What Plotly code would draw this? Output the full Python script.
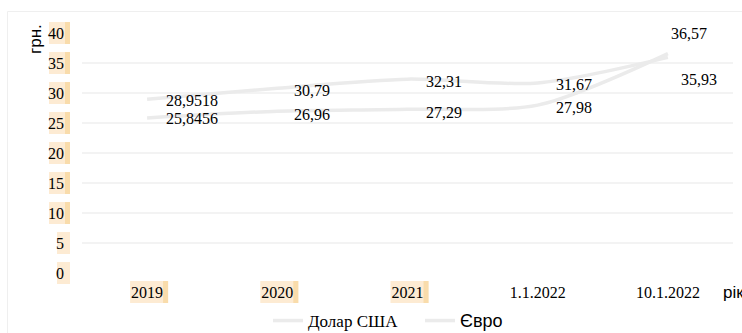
import plotly.graph_objects as go

# Exchange rates of the hryvnia (UAH per unit of currency)
categories = ["2019", "2020", "2021", "1.1.2022", "10.1.2022"]
usd = [25.8456, 26.96, 27.29, 27.98, 36.57]
eur = [28.9518, 30.79, 32.31, 31.67, 35.93]
y_ticks = [0, 5, 10, 15, 20, 25, 30, 35, 40]
series_names = ["Долар США", "Євро"]
highlighted_x = ["2019", "2020", "2021"]

# ---- layout geometry -------------------------------------------------------
W, H = 742, 333
M = dict(l=82, r=9, t=33, b=60)
PW = W - M["l"] - M["r"]
PH = H - M["t"] - M["b"]
Y_RANGE = [0, 40]

SERIF = "Liberation Serif"
SANS = "Liberation Sans"
LINE_COLOR = "#ebebeb"
LABEL_BG = "#fdebd3"
LABEL_EDGE = "#f9dcab"


def px(xpix):
    return (xpix - M["l"]) / PW


def py(ypix):
    return (H - M["b"] - ypix) / PH


def cat_pix(i):
    return M["l"] + (i + 0.5) * PW / len(categories)


def val_pix(v):
    return H - M["b"] - (v - Y_RANGE[0]) / (Y_RANGE[1] - Y_RANGE[0]) * PH


def fmt(v):
    return f"{v}".replace(".", ",")


fig = go.Figure()
fig.add_trace(go.Scatter(
    x=categories, y=usd, mode="lines", name=series_names[0],
    line=dict(color=LINE_COLOR, width=3.5, shape="spline", smoothing=0.8),
))
fig.add_trace(go.Scatter(
    x=categories, y=eur, mode="lines",
    name=f'<span style="font-family:{SANS};font-size:18px">{series_names[1]}</span>',
    line=dict(color=LINE_COLOR, width=3.5, shape="spline", smoothing=0.8),
))

# value labels beside each point (x/y pixel offsets)
usd_offsets = [(17, -1), (15, -3), (16, -3), (16, -2), (1, 20)]
eur_offsets = [(17, -1), (15, -2), (16, -2), (16, -2), (11, -22)]
annotations = []
for values, offsets in ((usd, usd_offsets), (eur, eur_offsets)):
    for i, (v, (dx, dy)) in enumerate(zip(values, offsets)):
        annotations.append(dict(
            x=i, y=v, xref="x", yref="y", text=fmt(v), showarrow=False,
            xanchor="left", yanchor="middle", xshift=dx, yshift=dy,
            font=dict(family=SERIF, size=16, color="#000"),
        ))

# axis titles
annotations.append(dict(
    x=px(35), y=py(39), xref="paper", yref="paper", text="грн.",
    showarrow=False, textangle=-90, xanchor="center", yanchor="middle",
    font=dict(family=SANS, size=17, color="#000"),
))
annotations.append(dict(
    x=px(721), y=py(292), xref="paper", yref="paper", text="рік",
    showarrow=False, xanchor="left", yanchor="middle",
    font=dict(family=SANS, size=17, color="#000"),
))

shapes = []
# light frame around the chart
shapes.append(dict(
    type="rect", xref="paper", yref="paper", layer="below",
    x0=px(7.5), x1=px(780), y0=py(11.5), y1=py(380),
    line=dict(color="#efefef", width=1), fillcolor="rgba(0,0,0,0)",
))


def rect(x0, x1, y0, y1, color):
    return dict(type="rect", xref="paper", yref="paper", layer="below",
                x0=px(x0), x1=px(x1), y0=py(y0), y1=py(y1),
                line=dict(width=0), fillcolor=color)


# highlighted y tick labels
for t in y_ticks:
    yc = val_pix(t)
    if t >= 10:
        shapes.append(rect(49, 70, yc - 11, yc + 11, LABEL_BG))
        shapes.append(rect(65, 70, yc - 11, yc + 11, LABEL_EDGE))
    else:
        shapes.append(rect(57, 70, yc - 11, yc + 11, LABEL_BG))

# highlighted x tick labels
for i, cat in enumerate(categories):
    if cat in highlighted_x:
        c = cat_pix(i)
        shapes.append(rect(c - 17, c + 21, 281, 303, LABEL_BG))
        shapes.append(rect(c + 16, c + 21, 281, 303, LABEL_EDGE))

fig.update_layout(
    width=W, height=H, margin=M,
    paper_bgcolor="white", plot_bgcolor="white",
    font=dict(family=SERIF, size=16, color="#000"),
    showlegend=True,
    legend=dict(
        orientation="h", xref="container", yref="container",
        x=268 / W, xanchor="left", y=1 - 303 / H, yanchor="top",
        font=dict(family=SERIF, size=17, color="#000"),
        bgcolor="rgba(0,0,0,0)", entrywidth=107, entrywidthmode="pixels",
    ),
    annotations=annotations,
    shapes=shapes,
    xaxis=dict(
        type="category", range=[-0.5, len(categories) - 0.5],
        showgrid=False, zeroline=False, showline=False, ticks="",
        tickfont=dict(family=SERIF, size=16, color="#000"),
        ticklabelstandoff=8, automargin=False,
    ),
    yaxis=dict(
        range=Y_RANGE, tickvals=y_ticks, showline=False, zeroline=False,
        gridcolor="#f3f3f3", gridwidth=2, ticks="",
        tickfont=dict(family=SERIF, size=16, color="#000"),
        ticklabelstandoff=17, automargin=False,
    ),
)

fig.write_html("out.html")
